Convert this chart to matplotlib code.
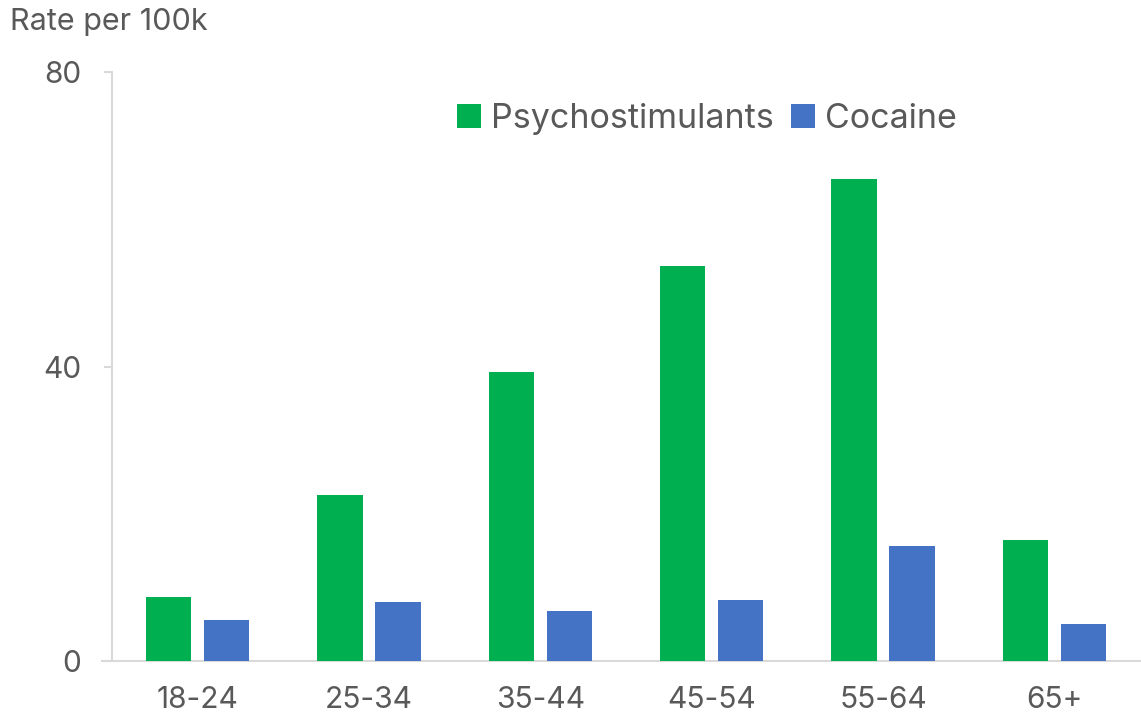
import matplotlib
matplotlib.use("Agg")
import matplotlib.pyplot as plt
import numpy as np

categories = ["18-24", "25-34", "35-44", "45-54", "55-64", "65+"]
psychostimulants = [8.7, 22.5, 39.3, 53.6, 65.4, 16.4]
cocaine = [5.6, 8.0, 6.8, 8.3, 15.6, 5.0]
y_ticks = [0, 40, 80]

green = "#00b050"
blue = "#4472c4"
text_color = "#595959"
axis_color = "#d9d9d9"

plt.rcParams["font.family"] = ["Inter", "DejaVu Sans"]

W, H = 1141, 721
fig = plt.figure(figsize=(W / 100, H / 100), dpi=100)
left, right, bottom, top = 112, 1140, 661, 72
ax = fig.add_axes([left / W, 1 - bottom / H, (right - left) / W, (bottom - top) / H])

x = np.arange(len(categories))
bw = 0.265
off = 0.17
ax.bar(x - off, psychostimulants, bw, color=green, label="Psychostimulants", zorder=3)
ax.bar(x + off, cocaine, bw, color=blue, label="Cocaine", zorder=3)

ax.set_xlim(-0.5, len(categories) - 0.5)
ax.set_ylim(0, 80)
ax.set_yticks(y_ticks)
ax.set_xticks(x)
ax.set_xticklabels(categories)

for s in ["top", "right"]:
    ax.spines[s].set_visible(False)
for s in ["left", "bottom"]:
    ax.spines[s].set_color(axis_color)
    ax.spines[s].set_linewidth(1.5)
ax.spines["bottom"].set_bounds(-0.5 - 10 / 171.3, len(categories) - 0.5)

ax.tick_params(axis="y", length=6, width=1.5, color=axis_color, labelsize=21.5,
               labelcolor=text_color, pad=16)
ax.tick_params(axis="x", length=0, labelsize=21.5, labelcolor=text_color, pad=18)

fig.text(10 / W, 1 - 22 / H, "Rate per 100k", fontsize=22, color=text_color,
         va="center", ha="left")

leg = ax.legend(loc="center", bbox_to_anchor=((707 - left) / (right - left), (bottom - 119) / (bottom - top)),
                ncol=2, frameon=False, fontsize=24.5, handlelength=0.7, handleheight=0.7,
                handletextpad=0.3, columnspacing=0.5, labelcolor=text_color)

fig.savefig("out.png", dpi=100)
